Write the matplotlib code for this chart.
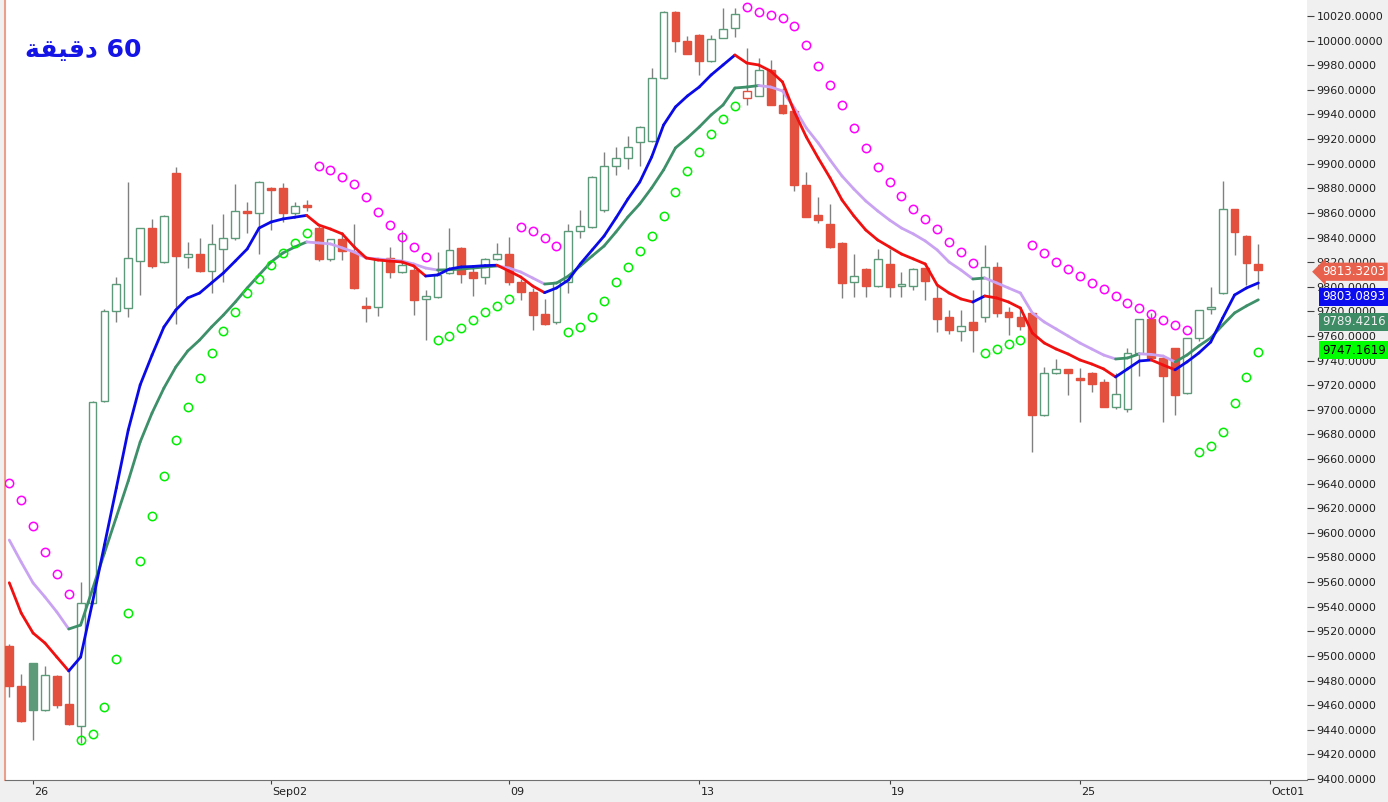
import numpy as np
import matplotlib.pyplot as plt
from matplotlib.collections import LineCollection
from matplotlib.patches import Rectangle
import matplotlib.transforms as mtransforms

# ---- dados (barras de 60 minutos) ----
opens = [9508.3, 9475.8, 9494.0, 9456.0, 9484.0, 9461.0, 9443.0, 9543.0, 9707.0, 9780.5,
         9782.5, 9821.0, 9848.0, 9820.4, 9892.7, 9824.0, 9826.4, 9813.0, 9830.4, 9839.4,
         9861.8, 9860.0, 9880.4, 9880.4, 9859.7, 9866.5, 9848.0, 9822.3, 9838.6, 9828.5,
         9784.0, 9783.3, 9823.0, 9811.7, 9813.6, 9790.0, 9791.4, 9811.0, 9831.8, 9812.2,
         9808.2, 9822.6, 9826.6, 9804.0, 9795.5, 9777.9, 9771.0, 9804.1, 9845.3, 9848.8,
         9862.4, 9898.4, 9904.4, 9918.0, 9918.8, 9969.3, 10023.0, 10000.0, 10004.5, 9983.7,
         10002.3, 10010.0, 9953.0, 9955.1, 9976.1, 9948.0, 9942.8, 9882.7, 9858.3, 9851.0,
         9835.8, 9803.6, 9814.4, 9800.8, 9818.5, 9800.8, 9800.9, 9815.0, 9791.0, 9775.6,
         9764.3, 9771.4, 9775.2, 9816.3, 9779.7, 9775.7, 9778.4, 9695.8, 9729.7, 9733.0,
         9726.0, 9730.0, 9722.2, 9702.5, 9700.7, 9746.4, 9773.8, 9742.4, 9750.0, 9713.4,
         9758.0, 9781.7, 9794.7, 9862.8, 9841.5, 9818.2]
highs = [9510.0, 9485.3, 9494.5, 9492.0, 9484.5, 9488.6, 9560.0, 9707.0, 9782.0, 9808.0,
         9885.5, 9848.0, 9854.8, 9858.5, 9897.6, 9836.6, 9839.4, 9851.0, 9859.0, 9883.5,
         9869.0, 9886.0, 9881.0, 9884.0, 9869.0, 9870.5, 9849.0, 9839.0, 9844.7, 9851.0,
         9792.0, 9823.0, 9832.4, 9846.0, 9817.7, 9797.4, 9828.5, 9847.4, 9832.5, 9816.3,
         9823.0, 9835.4, 9840.7, 9806.3, 9798.6, 9790.0, 9804.0, 9851.0, 9862.0, 9890.0,
         9909.8, 9913.8, 9922.2, 9930.5, 9977.5, 10024.0, 10024.0, 10003.7, 10005.0, 10004.6,
         10026.5, 10026.5, 9993.6, 9985.5, 9984.3, 9961.3, 9943.5, 9893.5, 9873.2, 9867.0,
         9836.5, 9827.0, 9815.0, 9831.0, 9830.7, 9812.3, 9815.0, 9815.5, 9802.2, 9781.0,
         9781.0, 9797.4, 9834.0, 9820.4, 9783.7, 9780.9, 9779.0, 9735.0, 9741.0, 9733.5,
         9733.7, 9730.5, 9725.0, 9729.7, 9750.0, 9774.0, 9778.4, 9743.0, 9750.5, 9758.5,
         9781.5, 9800.0, 9886.2, 9863.3, 9842.0, 9834.7]
lows = [9466.6, 9446.0, 9431.7, 9455.5, 9457.7, 9444.0, 9429.0, 9542.0, 9706.0, 9771.0,
        9775.6, 9793.0, 9815.0, 9819.5, 9770.0, 9815.6, 9812.0, 9794.6, 9803.6, 9838.0,
        9843.4, 9827.0, 9846.0, 9852.8, 9858.0, 9861.5, 9821.0, 9821.0, 9821.7, 9798.0,
        9771.0, 9776.5, 9806.8, 9811.0, 9777.0, 9756.7, 9790.5, 9810.0, 9802.8, 9792.7,
        9802.0, 9822.0, 9801.4, 9789.3, 9764.9, 9769.0, 9770.0, 9794.6, 9839.4, 9848.0,
        9861.0, 9890.8, 9896.0, 9898.2, 9918.0, 9969.0, 9991.0, 9989.0, 9972.0, 9983.0,
        10002.0, 10002.8, 9947.7, 9955.0, 9947.5, 9940.5, 9878.0, 9856.5, 9851.5, 9831.5,
        9790.6, 9791.8, 9791.8, 9800.0, 9791.8, 9791.8, 9797.4, 9789.0, 9763.0, 9762.0,
        9756.0, 9747.2, 9771.6, 9775.7, 9760.8, 9764.5, 9666.0, 9695.0, 9729.0, 9712.0,
        9689.9, 9714.7, 9702.0, 9701.0, 9698.0, 9727.7, 9742.0, 9689.8, 9695.8, 9712.5,
        9756.0, 9777.9, 9794.0, 9825.8, 9801.4, 9797.8]
closes = [9475.6, 9447.0, 9456.0, 9484.5, 9460.0, 9444.7, 9542.8, 9706.0, 9780.5, 9802.0,
          9823.0, 9847.6, 9817.0, 9857.8, 9825.0, 9826.4, 9812.8, 9834.5, 9840.0, 9861.8,
          9859.7, 9885.5, 9878.6, 9859.7, 9866.0, 9864.5, 9822.3, 9838.6, 9829.0, 9798.7,
          9782.5, 9822.6, 9812.0, 9817.7, 9789.0, 9792.7, 9809.6, 9829.9, 9810.4, 9806.8,
          9822.3, 9826.4, 9803.6, 9795.5, 9777.0, 9769.5, 9803.6, 9845.3, 9849.6, 9889.2,
          9897.8, 9905.0, 9913.8, 9930.0, 9969.3, 10023.5, 10000.0, 9989.0, 9983.7, 10001.3,
          10009.6, 10021.3, 9959.2, 9976.1, 9948.0, 9940.8, 9882.7, 9857.0, 9854.3, 9832.0,
          9802.8, 9809.0, 9800.6, 9822.3, 9800.0, 9801.6, 9814.2, 9804.7, 9773.8, 9764.9,
          9768.4, 9764.9, 9816.3, 9778.4, 9775.2, 9768.1, 9695.8, 9729.7, 9733.0, 9730.2,
          9724.5, 9721.0, 9702.5, 9712.5, 9746.4, 9773.5, 9742.4, 9727.5, 9712.0, 9758.0,
          9781.0, 9783.8, 9862.8, 9844.7, 9819.0, 9813.32]

# media rapida (vermelho/azul) e lenta (lilas/verde)
ma_rapida = [9559.5, 9534.9, 9518.6, 9510.5, 9499.1, 9487.8, 9499.1, 9543.8, 9590.2, 9636.5,
             9683.6, 9720.2, 9744.5, 9767.3, 9781.1, 9790.9, 9794.9, 9803.1, 9811.2, 9820.9,
             9830.7, 9847.7, 9852.6, 9855.1, 9856.5, 9858.0, 9850.2, 9846.9, 9842.9, 9832.3,
             9823.4, 9821.7, 9820.9, 9820.1, 9816.9, 9808.7, 9809.6, 9814.4, 9816.1, 9816.5,
             9817.2, 9817.5, 9812.8, 9807.9, 9800.6, 9795.2, 9799.0, 9805.5, 9818.5, 9829.9,
             9841.2, 9855.9, 9871.3, 9885.1, 9905.4, 9931.4, 9946.1, 9955.0, 9962.3, 9972.1,
             9980.2, 9988.3, 9981.8, 9980.2, 9975.3, 9966.4, 9942.0, 9921.7, 9904.6, 9888.4,
             9870.5, 9857.5, 9846.1, 9838.0, 9832.3, 9826.6, 9822.6, 9818.5, 9801.4, 9794.9,
             9790.1, 9787.6, 9792.5, 9790.9, 9787.6, 9782.7, 9762.4, 9754.3, 9749.4, 9745.4,
             9740.5, 9737.2, 9733.2, 9726.7, 9733.2, 9739.7, 9740.5, 9736.4, 9732.5, 9738.9,
             9746.2, 9755.1, 9774.6, 9793.3, 9799.0, 9803.0893]
ma_lenta = [9594.2, 9576.3, 9559.3, 9547.9, 9535.7, 9521.9, 9525.1, 9554.4, 9583.7, 9612.9,
            9642.2, 9673.8, 9697.4, 9717.7, 9734.8, 9747.8, 9756.7, 9767.3, 9777.0, 9787.6,
            9799.0, 9809.6, 9820.1, 9827.4, 9832.3, 9836.4, 9835.6, 9834.8, 9831.5, 9828.2,
            9823.4, 9822.6, 9821.7, 9820.9, 9818.5, 9815.2, 9813.6, 9813.8, 9814.4, 9815.2,
            9816.1, 9816.9, 9815.2, 9812.0, 9807.1, 9802.2, 9803.0, 9808.7, 9816.9, 9825.0,
            9833.1, 9844.5, 9856.7, 9867.3, 9880.3, 9894.9, 9912.8, 9920.9, 9929.8, 9939.6,
            9947.7, 9961.5, 9962.3, 9963.5, 9962.3, 9959.1, 9945.3, 9929.0, 9916.8, 9903.0,
            9890.0, 9879.4, 9869.7, 9861.6, 9854.2, 9847.7, 9842.9, 9837.2, 9829.9, 9820.1,
            9813.6, 9806.3, 9807.1, 9803.1, 9799.0, 9794.9, 9778.7, 9771.4, 9765.7, 9760.0,
            9754.3, 9749.4, 9744.5, 9741.3, 9742.1, 9745.5, 9745.0, 9743.7, 9738.9, 9744.5,
            9751.9, 9758.4, 9768.9, 9778.7, 9784.4, 9789.4216]
# SAR parabolico
sar = [9640.8, 9626.7, 9605.6, 9584.7, 9566.3, 9550.3, 9431.7, 9436.8, 9458.8, 9497.5,
       9534.9, 9577.1, 9614.0, 9646.5, 9675.5, 9702.0, 9725.6, 9746.4, 9764.0, 9779.7,
       9794.7, 9806.3, 9817.7, 9827.7, 9835.8, 9843.4, 9898.1, 9894.9, 9888.9, 9883.5,
       9873.2, 9861.0, 9850.2, 9840.2, 9832.1, 9824.4, 9756.7, 9760.0, 9766.7, 9773.0,
       9779.2, 9784.6, 9790.1, 9848.3, 9845.6, 9839.4, 9833.4, 9763.5, 9767.5, 9775.2,
       9788.7, 9803.6, 9816.3, 9829.3, 9841.5, 9857.7, 9877.2, 9894.3, 9909.8, 9923.9,
       9936.3, 9946.9, 10027.6, 10023.5, 10020.8, 10018.1, 10011.9, 9996.5, 9979.4, 9964.0,
       9947.7, 9928.8, 9912.5, 9897.6, 9884.9, 9874.0, 9863.2, 9854.8, 9846.7, 9836.6,
       9828.0, 9819.1, 9745.9, 9749.4, 9753.2, 9756.7, 9833.9, 9827.2, 9820.4, 9814.2,
       9808.7, 9803.1, 9797.9, 9792.5, 9787.0, 9782.5, 9777.9, 9773.0, 9768.9, 9764.9,
       9665.7, 9670.6, 9682.0, 9705.3, 9726.9, 9747.1619]

tick_pos = [2, 22, 42, 58, 74, 90, 106]
tick_lbl = ['26', 'Sep02', '09', '13', '19', '25', 'Oct01']
y_ticks = np.arange(9400, 10021, 20)

# etiquetas do eixo de precos (texto, posicao da caixa)
etiq_txt = ['9813.3203', '9803.0893', '9789.4216', '9747.1619']
etiq_pos = [9812.2, 9791.9, 9771.6, 9748.6]

VERMELHO = '#e4503e'
VERDE = '#5c9a7a'

fig = plt.figure(figsize=(13.88, 8.02), dpi=100, facecolor='#f0f0f0')
ax = fig.add_axes([5/1388, 22/802, 1302/1388, 780/802])
ax.set_facecolor('white')

n = len(closes)
x = np.arange(n)

# velas "hollow": cor pelo fechamento anterior, cheia se fechou abaixo da abertura
for i in range(n):
    o, h, l, c = opens[i], highs[i], lows[i], closes[i]
    prev = closes[i-1] if i > 0 else o
    cor = VERDE if c >= prev else VERMELHO
    ax.vlines(i, l, h, color='#808080', lw=1, zorder=2)
    base = min(o, c)
    alt = max(abs(c - o), 1.3)
    if c < o:
        r = Rectangle((i - 0.33, base), 0.66, alt, fc=cor, ec=cor, lw=1, zorder=3)
    else:
        r = Rectangle((i - 0.33, base), 0.66, alt, fc='white', ec=cor, lw=1, zorder=3)
    ax.add_patch(r)

# medias com cor pela inclinacao
def linha_colorida(vals, cor_sobe, cor_desce, lw):
    pts = np.column_stack([x, vals])
    segs = np.stack([pts[:-1], pts[1:]], axis=1)
    cores = [cor_sobe if vals[k+1] >= vals[k] else cor_desce for k in range(len(vals)-1)]
    lc = LineCollection(segs, colors=cores, linewidths=lw, zorder=4, capstyle='round')
    ax.add_collection(lc)

linha_colorida(ma_lenta, '#3d9069', '#c9a2f2', 2.0)
linha_colorida(ma_rapida, '#0a0ae6', '#f01010', 2.0)

# SAR
sar = np.array(sar)
acima = sar > np.array(closes)
ax.plot(x[acima], sar[acima], 'o', ms=6, mfc='none', mec='#ff00ff', mew=1.1, zorder=5)
ax.plot(x[~acima], sar[~acima], 'o', ms=6, mfc='none', mec='#00ee00', mew=1.1, zorder=5)

ax.set_xlim(-0.36, 109.09)
ax.set_ylim(9399.2, 10033.0)

# eixo y a direita
ax.yaxis.tick_right()
ax.set_yticks(y_ticks)
ax.set_yticklabels(['%.4f' % v for v in y_ticks])
ax.tick_params(axis='y', length=5, width=0.8, color='#404040', labelsize=8, pad=2,
               labelcolor='#202020')

ax.set_xticks(tick_pos)
ax.set_xticklabels(tick_lbl)
ax.tick_params(axis='x', length=3, width=0.8, color='#404040', labelsize=8, pad=2,
               labelcolor='#202020')
desl = mtransforms.ScaledTranslation(1/72, 0, fig.dpi_scale_trans)
for lb in ax.get_xticklabels():
    lb.set_horizontalalignment('left')
    lb.set_transform(lb.get_transform() + desl)

for s in ['top', 'right']:
    ax.spines[s].set_visible(False)
ax.spines['left'].set_color('#e8a08a')
ax.spines['left'].set_linewidth(1.5)
ax.spines['bottom'].set_color('#707070')

# caixas de preco no eixo
trans = mtransforms.blended_transform_factory(ax.transAxes, ax.transData)
estilos = [('larrow,pad=0.22', '#e8614d', 'white'),
           ('square,pad=0.22', '#0c0cf0', 'white'),
           ('square,pad=0.22', '#3e8c66', '#f0f0f0'),
           ('square,pad=0.22', '#00ff00', '#000000')]
for t, p, (bs, fc, tc) in zip(etiq_txt, etiq_pos, estilos):
    ax.text(1.0115, p, t, transform=trans, va='center', ha='left', fontsize=8.5,
            color=tc, clip_on=False, zorder=10,
            bbox=dict(boxstyle=bs, fc=fc, ec='none'))

# titulo (arabe em formas de apresentacao, ordem visual)
fig.text(25/1388, 1 - 50/802, '\ufe94\ufed8\ufef4\ufed7\ufea9 60', color='#1414e6',
         fontsize=18, fontweight='bold', va='center', ha='left',
         family=['DejaVu Sans'])

plt.savefig('out.png', dpi=100, facecolor=fig.get_facecolor())
